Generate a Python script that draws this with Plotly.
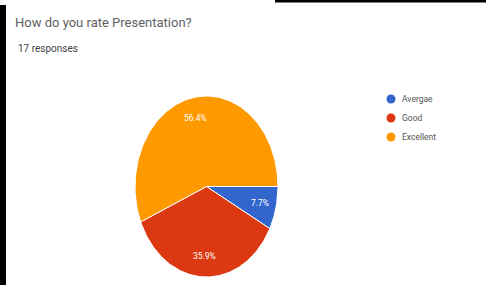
import numpy as np
import plotly.graph_objects as go

# ---- data ----
categories = ["Avergae", "Good", "Excellent"]
percent_values = [7.7, 35.9, 56.4]
slice_colors = ["#3366CC", "#DC3912", "#FF9900"]
title_text = "How do you rate Presentation?"
subtitle_text = "17 responses"

# ---- geometry (pixel-like data space) ----
W, H = 486, 285
cx, cy, rx, ry = 206.5, 186.5, 71.5, 90.5
label_frac = 0.77

fig = go.Figure()
total = sum(percent_values)
a0 = 0.0  # start at 3 o'clock, going clockwise (y axis reversed)
for name, v, c in zip(categories, percent_values, slice_colors):
    a1 = a0 + 360.0 * v / total
    t = np.radians(np.linspace(a0, a1, 160))
    xs = np.concatenate([[cx], cx + rx * np.cos(t), [cx]])
    ys = np.concatenate([[cy], cy + ry * np.sin(t), [cy]])
    fig.add_trace(go.Scatter(x=xs, y=ys, mode="lines", fill="toself",
                             fillcolor=c, line=dict(color="white", width=1),
                             showlegend=False, hoverinfo="skip", name=name))
    mid = np.radians((a0 + a1) / 2)
    fig.add_annotation(x=cx + label_frac * rx * np.cos(mid),
                       y=cy + label_frac * ry * np.sin(mid),
                       text=f"{v:.1f}%", showarrow=False,
                       font=dict(family="Roboto", size=8.5, color="white"))
    a0 = a1

# manual legend (markers + labels)
leg_x, leg_y0, leg_dy = 391, 99, 19
for i, (name, c) in enumerate(zip(categories, slice_colors)):
    fig.add_trace(go.Scatter(x=[leg_x], y=[leg_y0 + i * leg_dy], mode="markers",
                             marker=dict(symbol="circle", size=9, color=c),
                             showlegend=False, hoverinfo="skip", name=name))
    fig.add_annotation(x=leg_x + 9, y=leg_y0 + i * leg_dy, xanchor="left",
                       yanchor="middle", text=name, showarrow=False,
                       font=dict(family="Roboto", size=8.5, color="#555555"))

fig.add_annotation(x=13, y=22, xanchor="left", yanchor="middle", text=title_text,
                   showarrow=False, font=dict(family="Roboto", size=13, color="#5f5f5f"))
fig.add_annotation(x=16, y=48, xanchor="left", yanchor="middle", text=subtitle_text,
                   showarrow=False, font=dict(family="Roboto", size=10, color="#444444"))

# frame pieces of the screenshot
fig.add_shape(type="rect", x0=0, x1=6, y0=5, y1=H, fillcolor="black", line_width=0)
fig.add_shape(type="rect", x0=275, x1=W, y0=0, y1=2.5, fillcolor="black", line_width=0)

fig.update_layout(
    width=W, height=H,
    margin=dict(l=0, r=0, t=0, b=0),
    paper_bgcolor="white", plot_bgcolor="white",
    xaxis=dict(range=[0, W], visible=False, fixedrange=True),
    yaxis=dict(range=[H, 0], visible=False, fixedrange=True),
    showlegend=False,
)

fig.write_html("out.html", config={"displayModeBar": False, "staticPlot": True},
               post_script="document.body.style.margin='0px';")
